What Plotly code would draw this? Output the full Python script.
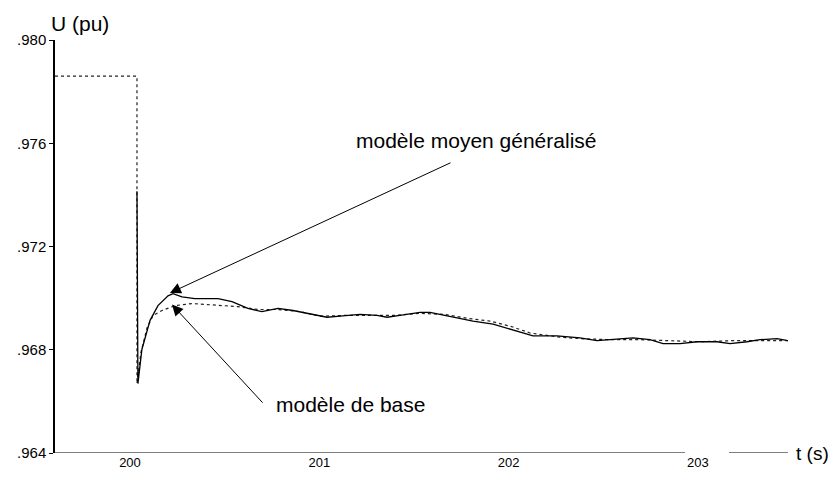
import plotly.graph_objects as go

# -------------------------------------------------------
# 1. Datos (t en s, U en pu)
# -------------------------------------------------------
t_moyen = [200.037, 200.042, 200.063, 200.106, 200.148, 200.201, 200.227, 200.275,
           200.343, 200.465, 200.539, 200.623, 200.697, 200.782, 200.861, 200.967,
           201.041, 201.109, 201.215, 201.305, 201.358, 201.426, 201.532, 201.585,
           201.638, 201.727, 201.812, 201.918, 202.023, 202.129, 202.256, 202.377,
           202.467, 202.552, 202.657, 202.747, 202.816, 202.906, 202.995, 203.101,
           203.170, 203.259, 203.328, 203.418, 203.476]
u_moyen = [0.97414, 0.96669, 0.96801, 0.96914, 0.96971, 0.97009, 0.97017, 0.97005,
           0.96998, 0.96998, 0.96986, 0.96960, 0.96948, 0.96960, 0.96952, 0.96937,
           0.96926, 0.96930, 0.96937, 0.96933, 0.96926, 0.96933, 0.96945, 0.96945,
           0.96937, 0.96922, 0.96911, 0.96899, 0.96877, 0.96854, 0.96854, 0.96846,
           0.96835, 0.96839, 0.96846, 0.96839, 0.96824, 0.96824, 0.96831, 0.96831,
           0.96824, 0.96831, 0.96839, 0.96843, 0.96835]

t_base = [199.604, 200.037, 200.037, 200.058, 200.090, 200.122, 200.169, 200.238,
          200.328, 200.465, 200.571, 200.676, 200.782, 200.898, 201.004, 201.136,
          201.268, 201.400, 201.532, 201.664, 201.780, 201.902, 202.023, 202.113,
          202.256, 202.377, 202.536, 202.695, 202.853, 203.011, 203.170, 203.312,
          203.476]
u_base = [0.97860, 0.97860, 0.96669, 0.96790, 0.96884, 0.96933, 0.96952, 0.96971,
          0.96979, 0.96971, 0.96967, 0.96956, 0.96956, 0.96948, 0.96930, 0.96933,
          0.96933, 0.96933, 0.96941, 0.96937, 0.96922, 0.96911, 0.96888, 0.96865,
          0.96850, 0.96843, 0.96839, 0.96839, 0.96835, 0.96831, 0.96835, 0.96835,
          0.96835]

x_ticks = [200, 201, 202, 203]
y_ticks = [0.964, 0.968, 0.972, 0.976, 0.980]
y_tick_text = [".964", ".968", ".972", ".976", ".980"]

x_min, x_max = 199.604, 203.476
y_min, y_max = 0.964, 0.980

FONT = "Liberation Sans, Arial, Helvetica, sans-serif"

# -------------------------------------------------------
# 2. Figura
# -------------------------------------------------------
fig = go.Figure()

fig.add_trace(go.Scatter(
    x=t_base, y=u_base, mode="lines", name="modèle de base",
    line=dict(color="#222222", width=1.2, dash="dot")
))

fig.add_trace(go.Scatter(
    x=t_moyen, y=u_moyen, mode="lines", name="modèle moyen généralisé",
    line=dict(color="black", width=1.3)
))

# axe des t, coupé autour de l'étiquette 203
fig.add_shape(type="line", xref="x", yref="y", x0=x_min, x1=202.932, y0=y_min, y1=y_min,
              line=dict(color="black", width=1.2))
fig.add_shape(type="line", xref="x", yref="y", x0=203.164, x1=x_max, y0=y_min, y1=y_min,
              line=dict(color="black", width=1.2))

# flèches
fig.add_annotation(x=200.211, y=0.97020, ax=201.701, ay=0.97527, axref="x", ayref="y",
                   text="", showarrow=True, arrowhead=2, arrowsize=2.2, arrowwidth=1,
                   arrowcolor="black")
fig.add_annotation(x=200.222, y=0.96975, ax=200.708, ay=0.96589, axref="x", ayref="y",
                   text="", showarrow=True, arrowhead=2, arrowsize=2.2, arrowwidth=1,
                   arrowcolor="black")

# textes
fig.add_annotation(x=201.183, y=0.97610, text="modèle moyen généralisé", showarrow=False,
                   xanchor="left", yanchor="middle", font=dict(size=21, color="black"))
fig.add_annotation(x=200.761, y=0.96589, text="modèle de base", showarrow=False,
                   xanchor="left", yanchor="middle", font=dict(size=21, color="black"))
fig.add_annotation(x=0.034, y=1.04, xref="paper", yref="paper", text="U (pu)",
                   showarrow=False, xanchor="center", yanchor="middle",
                   font=dict(size=21, color="black"))
fig.add_annotation(x=1.008, y=0, xref="paper", yref="paper", text="t (s)",
                   showarrow=False, xanchor="left", yanchor="middle",
                   font=dict(size=19, color="black"))

# la page ajoute une marge de 8 px autour de la figure : 823 + 16 = 839, 461 + 16 = 477
fig.update_layout(
    width=823,
    height=461,
    margin=dict(l=47, r=43, t=32, b=16),
    paper_bgcolor="white",
    plot_bgcolor="white",
    showlegend=False,
    font=dict(family=FONT, color="black"),
    xaxis=dict(range=[x_min, x_max], tickvals=x_ticks, showgrid=False, zeroline=False,
               showline=False, ticks="", tickfont=dict(size=13), automargin=False),
    yaxis=dict(range=[y_min, y_max], tickvals=y_ticks, ticktext=y_tick_text,
               showgrid=False, zeroline=False, showline=True, linecolor="black",
               linewidth=1.5, ticks="outside", ticklen=4, tickcolor="black",
               tickfont=dict(size=15), automargin=False)
)

fig.write_html("out.html")
